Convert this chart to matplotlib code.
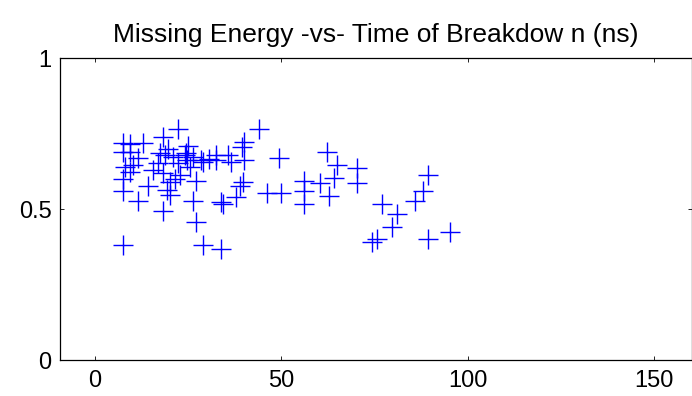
import matplotlib
matplotlib.use('Agg')
import matplotlib.pyplot as plt

# time of breakdown (ns) and missing energy
breakdown_ns = [
    62.1, 64.9, 70.3, 64.1, 56.0, 60.3, 70.3, 56.0, 62.8, 56.0,
    77.0, 81.0, 79.6, 75.6, 74.3, 89.3, 87.9, 85.9, 89.3, 95.3,
    44.0, 39.9, 39.4, 49.4, 39.9, 35.7, 32.4, 27.1, 39.7, 39.0,
    37.8, 46.0, 50.0, 26.3, 33.7, 34.2, 27.1, 29.0, 33.7, 24.4,
    26.3, 28.3, 29.0, 22.3, 7.4, 9.4, 12.9, 18.3, 7.4, 9.4,
    11.6, 10.3, 8.0, 9.4, 7.4, 14.3, 7.4, 11.6, 18.3, 7.4,
    17.0, 18.3, 20.1, 19.2, 20.1, 21.0, 22.3, 24.1, 25.0, 22.8,
    24.6, 18.8, 17.4, 32.4, 36.5, 30.5, 25.5, 19.5, 21.5, 15.5,
]
missing_energy = [
    0.688, 0.646, 0.637, 0.604, 0.594, 0.585, 0.587, 0.561, 0.543, 0.518,
    0.518, 0.483, 0.441, 0.400, 0.391, 0.611, 0.561, 0.528, 0.400, 0.424,
    0.764, 0.721, 0.704, 0.670, 0.662, 0.679, 0.662, 0.594, 0.588, 0.575,
    0.539, 0.552, 0.552, 0.527, 0.524, 0.515, 0.458, 0.381, 0.366, 0.684,
    0.673, 0.662, 0.657, 0.765, 0.717, 0.714, 0.720, 0.737, 0.688, 0.688,
    0.670, 0.646, 0.638, 0.624, 0.601, 0.576, 0.561, 0.527, 0.493, 0.381,
    0.651, 0.618, 0.591, 0.563, 0.546, 0.673, 0.651, 0.679, 0.707, 0.613,
    0.662, 0.679, 0.684, 0.680, 0.655, 0.665, 0.640, 0.700, 0.600, 0.630,
]

x_ticks = [0, 50, 100, 150]
y_ticks = [0, 0.5, 1]

plt.rcParams['font.family'] = ['Liberation Sans', 'DejaVu Sans']

fig = plt.figure(figsize=(6.92, 3.96), dpi=100)
ax = fig.add_axes([0.0867, 0.0909, 0.9128, 0.7626])

ax.plot(breakdown_ns, missing_energy, linestyle='none', marker='+',
        markersize=14.5, markeredgewidth=1.0, color='#0000ff')

ax.set_xlim(-9.4, 160)
ax.set_ylim(0, 1)
ax.set_xticks(x_ticks)
ax.set_yticks(y_ticks)
ax.set_xticklabels([str(t) for t in x_ticks])
ax.set_yticklabels(['0', '0.5', '1'])
ax.tick_params(direction='in', length=3, width=0.6, top=True, right=True,
               labelsize=17, colors='black')
ax.tick_params(axis='x', pad=7)
ax.tick_params(axis='y', pad=6)
for s in ax.spines.values():
    s.set_linewidth(0.9)
    s.set_color('black')

ax.set_title('Missing Energy -vs- Time of Breakdow n (ns)', fontsize=19, pad=11.5)

fig.savefig('out.png', dpi=100)
